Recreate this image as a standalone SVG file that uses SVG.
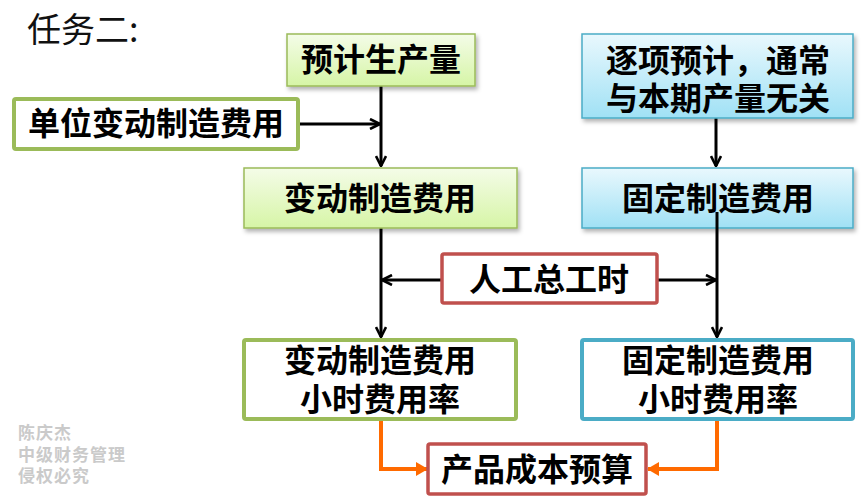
<svg xmlns="http://www.w3.org/2000/svg" width="863" height="504" viewBox="0 0 863 504">
<defs>
<linearGradient id="gG" x1="0" y1="0" x2="0" y2="1"><stop offset="0" stop-color="#f4fce8"/><stop offset="1" stop-color="#d6f5a6"/></linearGradient>
<linearGradient id="gB" x1="0" y1="0" x2="0" y2="1"><stop offset="0" stop-color="#e9f8fd"/><stop offset="1" stop-color="#a0e1f5"/></linearGradient>
<filter id="sh" x="-10%" y="-10%" width="120%" height="130%"><feDropShadow dx="2" dy="3" stdDeviation="2" flood-color="#000" flood-opacity="0.3"/></filter>
<marker id="ah" viewBox="0 0 12 12" refX="11" refY="6" markerWidth="12" markerHeight="12" markerUnits="userSpaceOnUse" orient="auto"><path d="M1,1 L11,6 L1,11" fill="none" stroke="#000" stroke-width="2.6"/></marker>
<marker id="ao" viewBox="0 0 12 14" refX="11" refY="7" markerWidth="12" markerHeight="14" markerUnits="userSpaceOnUse" orient="auto"><path d="M0,0 L12,7 L0,14 Z" fill="#ff6a00"/></marker>
</defs>
<style>
.t{font-family:"Noto Sans CJK SC","Microsoft YaHei",sans-serif;font-weight:bold;font-size:32px;fill:#000;text-anchor:middle}
.gf{fill:url(#gG);stroke:#9bbb59;stroke-width:1.5;filter:url(#sh)}
.bf{fill:url(#gB);stroke:#4bacc6;stroke-width:1.5;filter:url(#sh)}
.gw{fill:#fff;stroke:#9bbb59;stroke-width:4}
.bw{fill:#fff;stroke:#4bacc6;stroke-width:4}
.rw{fill:#fff;stroke:#c0504d;stroke-width:3.5}
.c{fill:none;stroke:#000;stroke-width:3}
.o{fill:none;stroke:#ff6a00;stroke-width:4}
.wm{font-family:"Noto Sans CJK SC",sans-serif;font-weight:bold;font-size:17px;letter-spacing:1px;fill:#cacaca}
</style>
<rect width="863" height="504" fill="#fff"/>
<text x="27" y="42" font-family="Noto Sans CJK SC, sans-serif" font-size="34" fill="#111">任务二:</text>
<g id="connectors">
<path class="c" d="M381,86 V166" marker-end="url(#ah)"/>
<path class="c" d="M298,124 H380" marker-end="url(#ah)"/>
<path class="c" d="M716,118 V166" marker-end="url(#ah)"/>
<path class="c" d="M381,228 V337" marker-end="url(#ah)"/>
<path class="c" d="M441,280 H382" marker-end="url(#ah)"/>
<path class="c" d="M657,280 H716" marker-end="url(#ah)"/>
<path class="o" d="M381,420 V469 H427" marker-end="url(#ao)"/>
<path class="o" d="M717,420 V469 H648" marker-end="url(#ao)"/>
</g>
<g id="n1"><rect class="gf" x="287" y="34" width="188" height="52"/><text class="t" x="381" y="71">预计生产量</text></g>
<g id="n2"><rect class="gw" x="14" y="99" width="284" height="50" rx="2"/><text class="t" x="156" y="135">单位变动制造费用</text></g>
<g id="n3"><rect class="gf" x="244" y="168" width="273" height="60"/><text class="t" x="380" y="210">变动制造费用</text></g>
<g id="n4"><rect class="bf" x="582" y="34" width="271" height="84"/><text class="t" x="718" y="72">逐项预计，通常</text><text class="t" x="718" y="110">与本期产量无关</text></g>
<g id="n5"><rect class="bf" x="582" y="168" width="271" height="60"/><text class="t" x="718" y="210">固定制造费用</text></g>
<g id="conn2"><path class="c" d="M717,212 V337" marker-end="url(#ah)"/></g>
<g id="n6"><rect class="rw" x="442" y="254" width="215" height="49" rx="2"/><text class="t" x="549" y="291">人工总工时</text></g>
<g id="n7"><rect class="gw" x="244" y="340" width="272" height="79" rx="2"/><text class="t" x="380" y="372">变动制造费用</text><text class="t" x="380" y="411">小时费用率</text></g>
<g id="n8"><rect class="bw" x="582" y="340" width="271" height="79" rx="2"/><text class="t" x="718" y="372">固定制造费用</text><text class="t" x="718" y="411">小时费用率</text></g>
<g id="n9"><rect class="rw" x="428" y="444" width="218" height="50" rx="2"/><text class="t" x="537" y="481">产品成本预算</text></g>
<text class="wm" x="18" y="439">陈庆杰</text>
<text class="wm" x="18" y="461">中级财务管理</text>
<text class="wm" x="18" y="482">侵权必究</text>
</svg>
